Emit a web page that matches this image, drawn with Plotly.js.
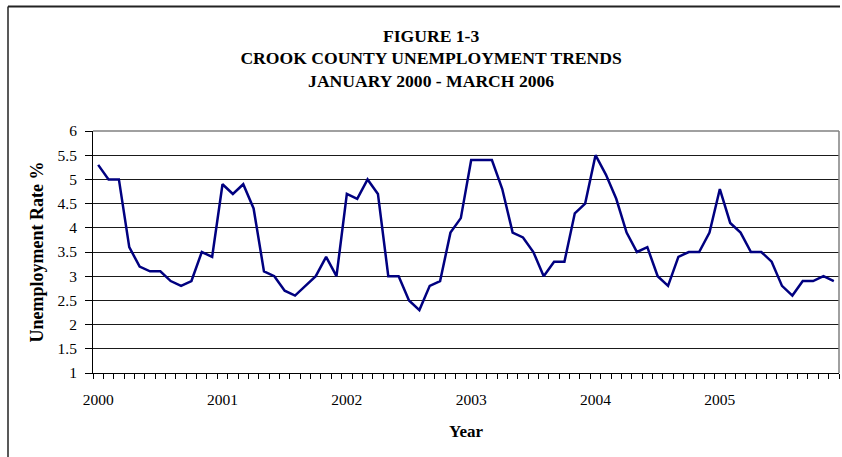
<!DOCTYPE html>
<html>
<head>
<meta charset="utf-8">
<script src="https://cdn.plot.ly/plotly-3.0.1.min.js"></script>
<style>html,body{margin:0;padding:0;background:#fff;}#chart{width:842px;height:457px;}</style>
</head>
<body>
<div id="chart"></div>
<script>
// Monthly unemployment rate, Crook County, Jan 2000 - Dec 2005
const years = ["2000", "2001", "2002", "2003", "2004", "2005"];
const rate2000 = [5.3, 5.0, 5.0, 3.6, 3.2, 3.1, 3.1, 2.9, 2.8, 2.9, 3.5, 3.4];
const rate2001 = [4.9, 4.7, 4.9, 4.4, 3.1, 3.0, 2.7, 2.6, 2.8, 3.0, 3.4, 3.0];
const rate2002 = [4.7, 4.6, 5.0, 4.7, 3.0, 3.0, 2.5, 2.3, 2.8, 2.9, 3.9, 4.2];
const rate2003 = [5.4, 5.4, 5.4, 4.8, 3.9, 3.8, 3.5, 3.0, 3.3, 3.3, 4.3, 4.5];
const rate2004 = [5.5, 5.1, 4.6, 3.9, 3.5, 3.6, 3.0, 2.8, 3.4, 3.5, 3.5, 3.9];
const rate2005 = [4.8, 4.1, 3.9, 3.5, 3.5, 3.3, 2.8, 2.6, 2.9, 2.9, 3.0, 2.9];

const titleLines = ["FIGURE 1-3", "CROOK COUNTY UNEMPLOYMENT TRENDS", "JANUARY 2000 - MARCH 2006"];
const xTitle = "Year";
const yTitle = "Unemployment Rate %";

const rates = [].concat(rate2000, rate2001, rate2002, rate2003, rate2004, rate2005);
const monthIndex = rates.map((_, i) => i);
const yearTickVals = years.map((_, i) => i * 12);

const serif = "Liberation Serif, Times New Roman, serif";

const trace = {
  x: monthIndex,
  y: rates,
  type: "scatter",
  mode: "lines",
  line: {color: "#000080", width: 2.5},
  hoverinfo: "skip"
};

const layout = {
  width: 842,
  height: 457,
  paper_bgcolor: "#ffffff",
  plot_bgcolor: "#ffffff",
  margin: {l: 93, r: 3, t: 131, b: 84, pad: 0},
  showlegend: false,
  font: {family: serif, color: "#000", size: 15.5},
  title: {
    text: titleLines.join("<br>"),
    font: {family: serif, size: 17.6, weight: "bold", color: "#000"},
    x: 0.512, xref: "container", xanchor: "center",
    y: 1 - 41.5 / 457, yref: "container", yanchor: "middle"
  },
  xaxis: {
    range: [-0.5, rates.length - 0.5],
    tickmode: "array",
    tickvals: yearTickVals,
    ticktext: years,
    ticks: "outside",
    ticklen: 5,
    tickcolor: "rgba(0,0,0,0)",
    ticklabelstandoff: 7,
    showgrid: false,
    zeroline: false,
    showline: true,
    linecolor: "#000",
    linewidth: 1,
    tickfont: {family: serif, size: 15.5, color: "#000"},
    minor: {ticks: "outside", ticklen: 5, tickcolor: "#000", tickwidth: 1, tick0: -0.5, dtick: 1, showgrid: false},
    title: {text: xTitle, font: {family: serif, size: 17, weight: "bold", color: "#000"}, standoff: 18}
  },
  yaxis: {
    range: [1, 6],
    dtick: 0.5,
    tick0: 1,
    ticks: "outside",
    ticklen: 7,
    tickcolor: "#000",
    ticklabelstandoff: 5,
    showgrid: true,
    gridcolor: "#1a1a1a",
    gridwidth: 1,
    zeroline: false,
    showline: true,
    linecolor: "#000",
    linewidth: 1,
    tickfont: {family: serif, size: 15.5, color: "#000"},
    title: {text: yTitle, font: {family: serif, size: 18, weight: "bold", color: "#000"}, standoff: 9}
  },
  shapes: [
    // plot-area top and right border (gray)
    {type: "line", xref: "paper", yref: "paper", x0: 0, x1: 1, y0: 1, y1: 1, line: {color: "#808080", width: 1.5}},
    {type: "line", xref: "paper", yref: "paper", x0: 1, x1: 1, y0: 0, y1: 1, line: {color: "#808080", width: 1.5}},
    // chart-area border (left and top visible)
    {type: "line", xref: "paper", yref: "paper",
     x0: (8 - 93) / 746, x1: (840 - 93) / 746, y0: (373 - 6.5) / 242, y1: (373 - 6.5) / 242,
     line: {color: "#222", width: 2}, layer: "above"},
    {type: "line", xref: "paper", yref: "paper",
     x0: (8 - 93) / 746, x1: (8 - 93) / 746, y0: (373 - 470) / 242, y1: (373 - 6.5) / 242,
     line: {color: "#222", width: 1.5}, layer: "above"}
  ]
};

Plotly.newPlot("chart", [trace], layout, {displayModeBar: false, staticPlot: true});
</script>
</body>
</html>
